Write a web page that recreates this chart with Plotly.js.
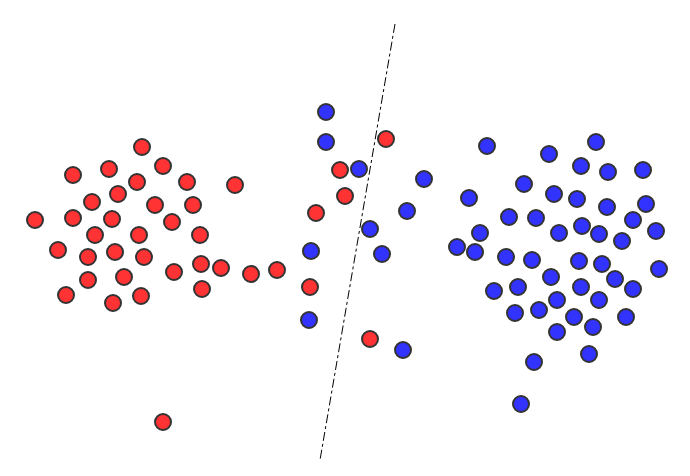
<!DOCTYPE html>
<html>
<head>
<meta charset="utf-8">
<script src="https://cdn.plot.ly/plotly-3.0.1.min.js"></script>
<style>
  html, body { margin: 0; padding: 0; background: #fff; }
  #graph { width: 690px; height: 476px; }
</style>
</head>
<body>
<div id="graph"></div>
<script>
// class A (red) points
const redX = [142, 163, 73, 109, 137, 187, 235, 118, 92, 155, 193, 35, 73, 112, 172, 95, 139, 200,
  58, 88, 115, 144, 201, 221, 174, 251, 277, 88, 124, 66, 202, 113, 141, 163,
  386, 340, 345, 316, 310, 370];
const redY = [147, 166, 175, 169, 182, 182, 185, 194, 202, 205, 205, 220, 218, 219, 222, 235, 235, 235,
  250, 257, 252, 257, 264, 268, 272, 274, 270, 280, 277, 295, 289, 303, 296, 422,
  139, 170, 196, 213, 287, 339];

// class B (blue) points
const blueX = [326, 326, 359, 424, 407, 370, 311, 382, 309, 403,
  487, 596, 549, 581, 608, 643, 524, 469, 554, 577, 607, 646, 509, 536, 633, 559, 582, 599, 622, 656,
  480, 457, 475, 506, 532, 579, 602, 659, 551, 615, 581, 494, 518, 633, 557, 599, 515, 539, 574, 626,
  557, 593, 534, 589, 521];
const blueY = [112, 142, 169, 179, 211, 229, 251, 254, 320, 350,
  146, 142, 154, 166, 172, 170, 184, 198, 194, 199, 207, 204, 217, 218, 220, 233, 226, 234, 241, 231,
  233, 247, 252, 257, 260, 261, 264, 269, 277, 279, 287, 291, 287, 289, 300, 300, 313, 310, 317, 317,
  332, 327, 362, 354, 404];

// separating line
const sepX = [395, 320];
const sepY = [24, 460];

const marker = (fill) => ({ size: 16, color: fill, line: { color: '#333333', width: 2 } });

const traces = [
  { x: sepX, y: sepY, mode: 'lines', line: { color: '#000', width: 1, dash: 'dashdot' }, hoverinfo: 'skip' },
  { x: redX, y: redY, mode: 'markers', type: 'scatter', marker: marker('#ff3333') },
  { x: blueX, y: blueY, mode: 'markers', type: 'scatter', marker: marker('#3333ff') }
];

Plotly.newPlot('graph', traces, {
  width: 690,
  height: 476,
  margin: { l: 0, r: 0, t: 0, b: 0 },
  showlegend: false,
  paper_bgcolor: '#fff',
  plot_bgcolor: '#fff',
  xaxis: { range: [0, 690], visible: false, fixedrange: true },
  yaxis: { range: [476, 0], visible: false, fixedrange: true }
}, { displayModeBar: false, staticPlot: true });
</script>
</body>
</html>
